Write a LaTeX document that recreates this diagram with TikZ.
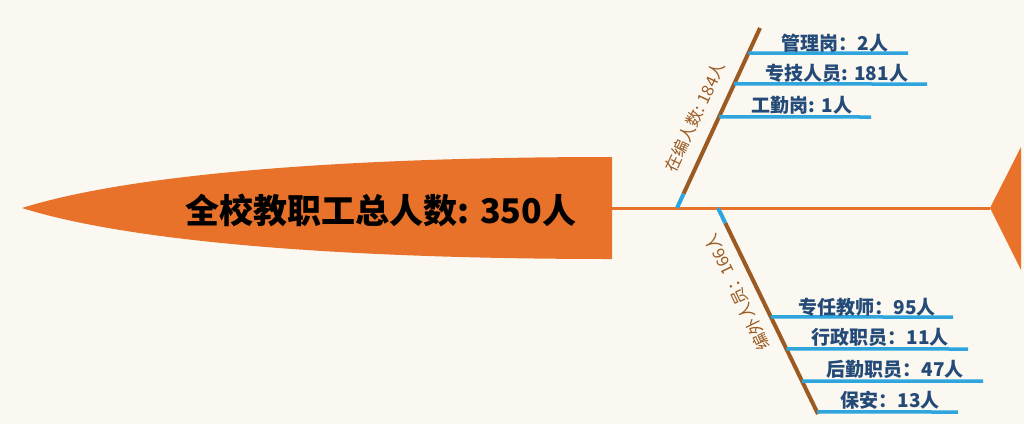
\documentclass[tikz,border=0pt]{standalone}
\usepackage{fontspec}
\newfontfamily\cjk{Noto Sans CJK SC}
\usetikzlibrary{positioning,calc}
\definecolor{fishorange}{HTML}{E8722A}
\definecolor{bonebrown}{HTML}{9A5A22}
\definecolor{branchblue}{HTML}{2FA5DE}
\definecolor{labelnavy}{HTML}{244A78}
\definecolor{paper}{HTML}{FAF8F1}

\begin{document}
\begin{tikzpicture}[x=1pt,y=-1pt,
  spine/.style={draw=fishorange,line width=3pt},
  bone/.style={draw=bonebrown,line width=4pt},
  bonetip/.style={draw=branchblue,line width=4pt},
  twig/.style={draw=branchblue,line width=3.5pt},
  twiglbl/.style={font=\cjk\bfseries\fontsize{19}{19}\selectfont,text=labelnavy,inner sep=0pt},
  bonelbl/.style={font=\cjk\fontsize{16.5}{16.5}\selectfont,text=bonebrown,inner sep=0pt}]
\fill[paper] (0,0) rectangle (1024,424);
\useasboundingbox (0,0) rectangle (1024,424);

% tail with the title
\fill[fishorange] (612,157) .. controls (400,157) and (150,168) .. (22,208)
  .. controls (150,248) and (400,259) .. (612,259) -- cycle;
\node[font=\cjk\bfseries\fontsize{34}{34}\selectfont] (total) at (381,210) {全校教职工总人数: 350人};

% spine and head
\coordinate (tailend) at (612,208);
\coordinate (headtip) at (990,208);
\draw[spine] (tailend) -- (headtip);
\fill[fishorange] (headtip) -- (1021,147) -- (1021,270) -- cycle;

% upper bone
\coordinate (ub) at (677,208);
\coordinate (ut) at (760,28);
\draw[bone] ($(ub)!0.08!(ut)$) -- (ut);
\draw[bonetip] (ub) -- ($(ub)!0.08!(ut)$);
\node[bonelbl,rotate=65] (zaibian) at (695,117) {在编人数: 184人};

\coordinate (g1) at (908,53);
\coordinate (g2) at (927,84);
\coordinate (g3) at (871,117);
\draw[twig] ($(ub)!0.861!(ut)$) -- (g1);
\draw[twig] ($(ub)!0.689!(ut)$) -- (g2);
\draw[twig] ($(ub)!0.506!(ut)$) -- (g3);
\node[twiglbl] (guanli) at (835,43) {管理岗：2人};
\node[twiglbl] (zhuanji) at (837,73) {专技人员: 181人};
\node[twiglbl] (gongqin) at (802,105) {工勤岗: 1人};

% lower bone
\coordinate (lb) at (718,208);
\coordinate (lt) at (818,414);
\draw[bone] ($(lb)!0.073!(lt)$) -- (lt);
\draw[bonetip] (lb) -- ($(lb)!0.073!(lt)$);
\node[bonelbl,rotate=116] (bianwai) at (737,292) {编外人员：166人};

\coordinate (h1) at (953,317);
\coordinate (h2) at (968,349);
\coordinate (h3) at (983,381);
\coordinate (h4) at (958,412);
\draw[twig] ($(lb)!0.529!(lt)$) -- (h1);
\draw[twig] ($(lb)!0.684!(lt)$) -- (h2);
\draw[twig] ($(lb)!0.840!(lt)$) -- (h3);
\draw[twig] ($(lb)!0.990!(lt)$) -- (h4);
\node[twiglbl] (zhuanren) at (867,307) {专任教师：95人};
\node[twiglbl] (xingzheng) at (880,337) {行政职员：11人};
\node[twiglbl] (houqin) at (895,369) {后勤职员：47人};
\node[twiglbl] (baoan) at (890,400) {保安：13人};
\end{tikzpicture}
\end{document}
